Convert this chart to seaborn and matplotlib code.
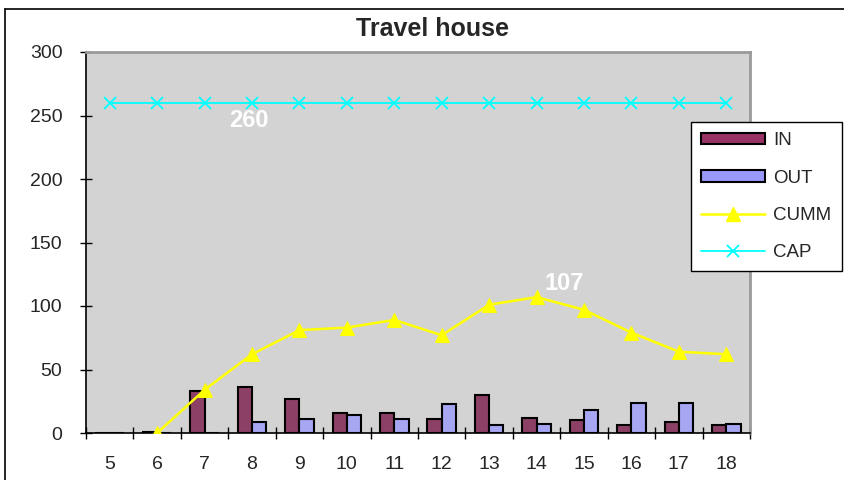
import numpy as np
import pandas as pd
import matplotlib
matplotlib.use("Agg")
import matplotlib.pyplot as plt
from matplotlib.lines import Line2D
from matplotlib.patches import Patch
import seaborn as sns

# Hours of the day and traffic counts for the travel house
hours = ["5", "6", "7", "8", "9", "10", "11", "12", "13", "14", "15", "16", "17", "18"]
in_counts = [0, 1, 33, 36, 27, 16, 16, 11, 30, 12, 10, 6, 9, 6]
out_counts = [0, 0, 0, 9, 11, 14, 11, 23, 6, 7, 18, 24, 24, 7]
cumm = [np.nan, 0, 34, 62, 81, 83, 89, 77, 101, 107, 97, 79, 64, 62]
cap = [260] * 14
y_ticks = [0, 50, 100, 150, 200, 250, 300]

IN_COLOR = "#993366"
OUT_COLOR = "#9999FF"
CUMM_COLOR = "#FFFF00"
CAP_COLOR = "#00FFFF"

sns.set_theme(style="white")
plt.rcParams["font.family"] = ["Liberation Sans", "DejaVu Sans"]

bars = pd.DataFrame({
    "hour": hours * 2,
    "count": in_counts + out_counts,
    "series": ["IN"] * len(hours) + ["OUT"] * len(hours),
})
lines = pd.DataFrame({"pos": np.arange(len(hours)), "cumm": cumm, "cap": cap})

fig = plt.figure(figsize=(8.45, 4.80), dpi=100)
ax = fig.add_axes([86 / 845, 1 - 433 / 480, (750 - 86) / 845, (433 - 52) / 480])
ax.set_facecolor("#D3D3D3")

sns.barplot(data=bars, x="hour", y="count", hue="series", order=hours,
            palette={"IN": IN_COLOR, "OUT": OUT_COLOR}, width=0.6, gap=0,
            edgecolor="black", linewidth=1.5, legend=False, ax=ax, zorder=2)

sns.lineplot(data=lines, x="pos", y="cap", color=CAP_COLOR, marker="x",
             markersize=8, markeredgewidth=1.3, markeredgecolor=CAP_COLOR,
             linewidth=1.3, ax=ax, zorder=3)
sns.lineplot(data=lines, x="pos", y="cumm", color=CUMM_COLOR, marker="^",
             markersize=10, markeredgecolor=CUMM_COLOR, linewidth=1.8,
             ax=ax, zorder=4)

# value labels
ax.annotate(f"{cap[3]}", xy=(3, cap[3]), xytext=(-3, -18), textcoords="offset pixels",
            ha="center", va="center", color="white", fontsize=17, fontweight="bold", zorder=5)
ax.annotate(f"{cumm[9]:.0f}", xy=(9, cumm[9]), xytext=(28, 14), textcoords="offset pixels",
            ha="center", va="center", color="white", fontsize=17, fontweight="bold", zorder=5)

ax.set_xlim(-0.5, len(hours) - 0.5)
ax.set_ylim(0, 300)
ax.set_yticks(y_ticks)
ax.set_yticklabels([str(t) for t in y_ticks], fontsize=14)
ax.set_xticks(np.arange(len(hours)))
ax.set_xticklabels(hours, fontsize=14)
ax.tick_params(axis="x", length=0, pad=16.5)
ax.tick_params(axis="y", direction="inout", length=9, width=1, color="black", pad=12.5, left=True)
# category boundary ticks
ax.set_xticks(np.arange(len(hours) + 1) - 0.5, minor=True)
ax.tick_params(axis="x", which="minor", direction="inout", length=8, width=1, color="black", bottom=True)
ax.set_xlabel("")
ax.set_ylabel("")

for side in ("top", "right"):
    ax.spines[side].set_color("#9A9A9A")
    ax.spines[side].set_linewidth(2)
for side in ("left", "bottom"):
    ax.spines[side].set_color("black")
    ax.spines[side].set_linewidth(1.2)

fig.text(433 / 845, 1 - 29 / 480, "Travel house", ha="center", va="center",
         fontsize=18, fontweight="bold")

handles = [
    Patch(facecolor=IN_COLOR, edgecolor="black", linewidth=1.5),
    Patch(facecolor=OUT_COLOR, edgecolor="black", linewidth=1.5),
    Line2D([], [], color=CUMM_COLOR, marker="^", markersize=10, linewidth=1.8),
    Line2D([], [], color=CAP_COLOR, marker="x", markersize=8, markeredgewidth=1.3, linewidth=1.3),
]
leg = fig.legend(handles, ["IN", "OUT", "CUMM", "CAP"], loc="upper left",
                 bbox_to_anchor=(691 / 845, 1 - 122 / 480), fontsize=13.5,
                 handlelength=3.4, handleheight=0.55, labelspacing=1.08,
                 handletextpad=0.45, borderpad=0.55, borderaxespad=0,
                 fancybox=False, frameon=True, framealpha=1,
                 edgecolor="black", facecolor="white")
leg.get_frame().set_linewidth(1.0)

# outer chart border
fig.add_artist(Line2D([5 / 845, 5 / 845], [0, 1 - 9 / 480], transform=fig.transFigure,
                      color="black", linewidth=1.2))
fig.add_artist(Line2D([5 / 845, 1], [1 - 9 / 480, 1 - 9 / 480], transform=fig.transFigure,
                      color="black", linewidth=1.2))

fig.savefig("out.png", dpi=100)
